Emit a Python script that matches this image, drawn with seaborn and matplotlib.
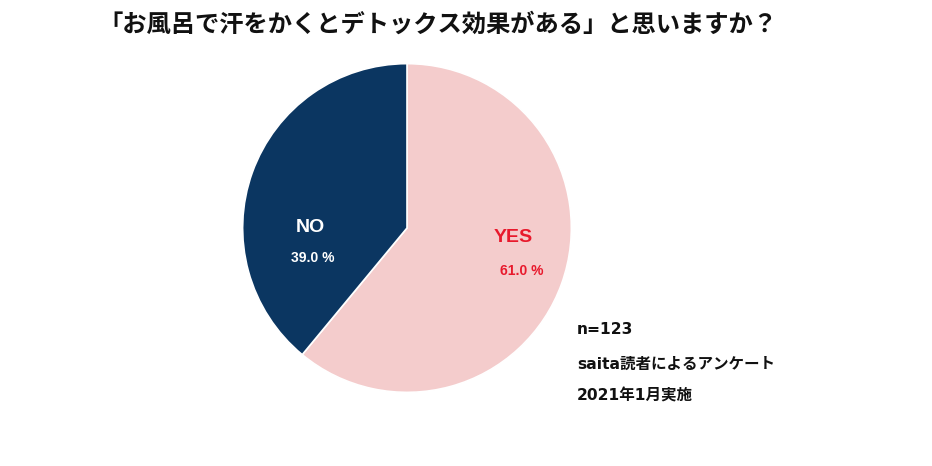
import matplotlib
matplotlib.use("Agg")
import matplotlib.pyplot as plt
import seaborn as sns

labels = ["YES", "NO"]
values = [61.0, 39.0]
pct_labels = ["61.0 %", "39.0 %"]
colors = ["#f4cccc", "#0b3661"]
text_colors = ["#e8192c", "#ffffff"]
title = "「お風呂で汗をかくとデトックス効果がある」と思いますか？"
notes = ["n=123", "saita読者によるアンケート", "2021年1月実施"]

sns.set_theme(style="white")
plt.rcParams['font.family'] = ['Noto Sans CJK JP', 'DejaVu Sans']

fig = plt.figure(figsize=(9.32, 4.66), dpi=100)
fig.patch.set_facecolor("white")
r = 166
cx, cy = 407, 228
ax = fig.add_axes([(cx - r) / 932, (466 - cy - r) / 466, 2 * r / 932, 2 * r / 466])
ax.pie(values, colors=colors, startangle=90, counterclock=False,
       wedgeprops=dict(edgecolor="white", linewidth=1.2))
ax.set_xlim(-1.01, 1.01)
ax.set_ylim(-1.01, 1.01)
ax.set_aspect("equal")

# label positions (relative to the pie center, radius 1)
name_pos = [(0.646, -0.055), (-0.59, 0.0)]
pct_pos = [(0.70, -0.262), (-0.573, -0.183)]
for i in range(len(values)):
    ax.text(name_pos[i][0], name_pos[i][1], labels[i], color=text_colors[i],
            fontsize=14, fontweight="bold", family=["Liberation Sans", "DejaVu Sans"],
            ha="center", va="center")
    ax.text(pct_pos[i][0], pct_pos[i][1], pct_labels[i], color=text_colors[i],
            fontsize=10, fontweight="bold", family=["Liberation Sans", "DejaVu Sans"],
            ha="center", va="center")

fig.text(98 / 932, 1 - 25 / 466, title, fontsize=17.5, fontweight="bold",
         color="#111111", ha="left", va="center")

note_y = [330, 364, 396]
for t, y in zip(notes, note_y):
    fig.text(577 / 932, 1 - y / 466, t, fontsize=11.2, fontweight="bold",
             family=["DejaVu Sans", "Noto Sans CJK JP"],
             color="#111111", ha="left", va="center")

fig.savefig("out.png", dpi=100, facecolor="white")
